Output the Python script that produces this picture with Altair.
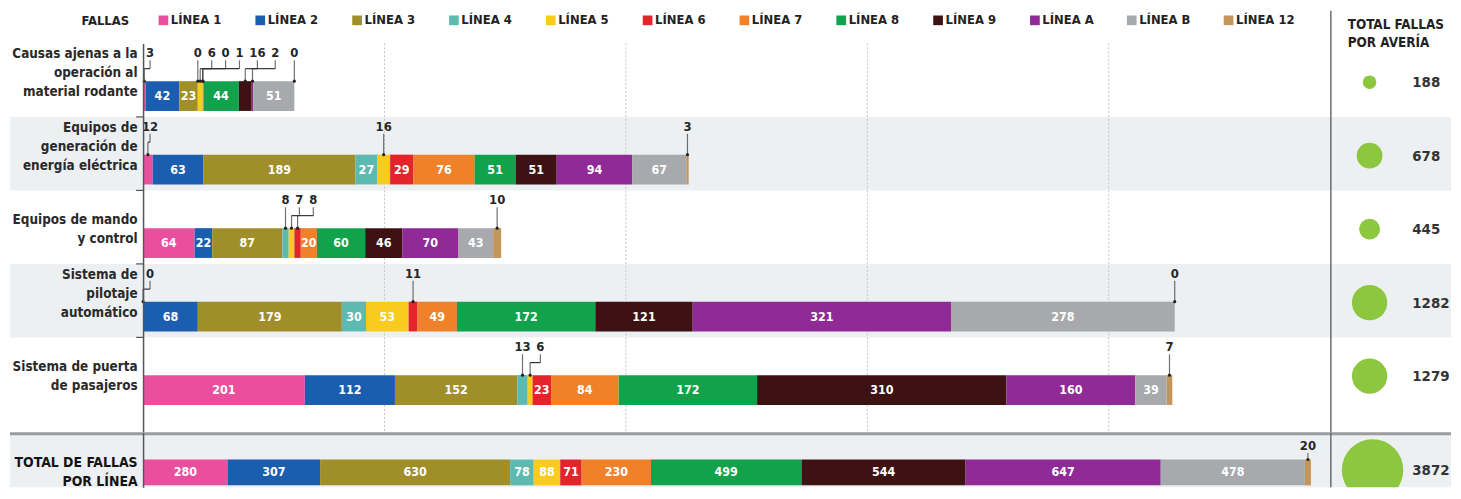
import altair as alt
import pandas as pd

# ---------------- data ----------------
lineas = ["LÍNEA 1", "LÍNEA 2", "LÍNEA 3", "LÍNEA 4", "LÍNEA 5", "LÍNEA 6",
          "LÍNEA 7", "LÍNEA 8", "LÍNEA 9", "LÍNEA A", "LÍNEA B", "LÍNEA 12"]
colores = ["#ea4f9e", "#1b5eb0", "#a08e2b", "#5dbab2", "#f8cb1d", "#e3242b",
           "#f08129", "#12a24c", "#3e1212", "#8f2a97", "#a7a9ac", "#c4965b"]
averias = ["Causas ajenas a la|operación al|material rodante",
           "Equipos de|generación de|energía eléctrica",
           "Equipos de mando|y control",
           "Sistema de|pilotaje|automático",
           "Sistema de puerta|de pasajeros"]
causas_ajenas = [3, 42, 23, 0, 6, 0, 1, 44, 16, 2, 51, 0]
generacion = [12, 63, 189, 27, 16, 29, 76, 51, 51, 94, 67, 3]
mando = [64, 22, 87, 8, 7, 8, 20, 60, 46, 70, 43, 10]
pilotaje = [0, 68, 179, 30, 53, 11, 49, 172, 121, 321, 278, 0]
puertas = [201, 112, 152, 13, 6, 23, 84, 172, 310, 160, 39, 7]
totales_linea = [280, 307, 630, 78, 88, 71, 230, 499, 544, 647, 478, 20]
totales_averia = [188, 678, 445, 1282, 1279]
total_general = 3872
total_label = "TOTAL DE FALLAS|POR LÍNEA"
header_right = "TOTAL FALLAS|POR AVERÍA"
gridlines = [300, 600, 900, 1200]

# ---------------- layout / style ----------------
FONT = "DejaVu Sans Condensed, Liberation Sans Narrow, Roboto, sans-serif"
LEFT = 134
W = 1196
H_MAIN = 392
BAND = 74
H_TOT = 55
W_R = 121
XMAX_MAIN = 1476
XMAX_TOT = 3938
BG = "#edf0f3"
INK = "#262626"
DIGIT = 8


def build(rows_vals, xmax):
    ppu = W / xmax
    segs, calls = [], []
    for row, vals in rows_vals:
        start = 0
        recs = []
        for i, (ln, v) in enumerate(zip(lineas, vals)):
            recs.append(dict(row=row, linea=ln, idx=i, value=v, start=start,
                             end=start + v, mid=start + v / 2,
                             inside=v * ppu >= 15))
            start += v
        segs.extend(recs)
        cl = [r for r in recs if not r["inside"]]
        pos = []
        for k, r in enumerate(cl):
            w = DIGIT * len(str(r["value"]))
            p = max(r["mid"] * ppu, 7)
            if pos:
                wp = DIGIT * len(str(cl[k - 1]["value"]))
                p = max(p, pos[-1] + (wp + w) / 2 + 6)
            pos.append(p)
        for r, p in zip(cl, pos):
            c = dict(r)
            c["lx"] = p / ppu
            calls.append(c)
    return pd.DataFrame(segs), pd.DataFrame(calls)


seg_main, call_main = build(list(zip(averias, [causas_ajenas, generacion, mando, pilotaje, puertas])), XMAX_MAIN)
seg_tot, call_tot = build([(total_label, totales_linea)], XMAX_TOT)

cscale = alt.Scale(domain=lineas, range=colores)
legend_def = alt.Legend(
    title="FALLAS", orient="none", legendX=-62, legendY=-30, direction="horizontal",
    columns=12, gridAlign="all", symbolType="square", symbolSize=95,
    symbolStrokeWidth=0, labelFont=FONT, labelFontSize=13, labelFontWeight="bold",
    labelColor="#222", titleFont=FONT, titleFontSize=13, titleFontWeight="bold",
    titleColor="#222", titleOrient="left", titlePadding=28, columnPadding=24.5,
    labelOffset=1, titleBaseline="middle")

pad3 = "length(split(datum.label, '|')) < 3 ? split(' |' + datum.label, '|') : split(datum.label, '|')"


def yenc(domain, height, band, label_offset, fsize, color, expr):
    n = len(domain)
    po = (height / band - n) / 2
    return alt.Y("row:N", sort=domain,
                 scale=alt.Scale(domain=domain, paddingInner=0, paddingOuter=po, align=0),
                 axis=alt.Axis(title=None, labelExpr=expr,
                               labelBaseline="middle", labelOffset=label_offset,
                               labelLineHeight=19, labelFontSize=fsize, labelFont=FONT,
                               labelFontWeight="bold", labelColor=color, labelAlign="right",
                               labelPadding=6, ticks=False, domainColor="#555",
                               domainWidth=1.5, minExtent=LEFT, maxExtent=LEFT,
                               zindex=1, labelLimit=300))


def panel(seg, call, xmax, y, height, bar_size, bar_off, lab_off, shade_rows, legend):
    xs = alt.Scale(domain=[0, xmax], nice=False, zero=True)
    bg_df = pd.DataFrame({"row": shade_rows})
    bg = alt.Chart(bg_df).mark_rect(color=BG).encode(
        y=y, x=alt.value(-LEFT), x2=alt.value(W))
    bars = alt.Chart(seg).mark_bar(size=bar_size, yOffset=bar_off).encode(
        x=alt.X("start:Q", scale=xs, axis=None), x2="end:Q", y=y,
        color=alt.Color("linea:N", scale=cscale, legend=legend),
        order=alt.Order("idx:Q"))
    inside = alt.Chart(seg[seg.inside]).mark_text(
        color="white", fontWeight="bold", fontSize=12.5, font=FONT, yOffset=bar_off).encode(
        x=alt.X("mid:Q", scale=xs, axis=None), y=y, text="value:Q")
    bar_top = bar_off - bar_size / 2
    lab_bottom = lab_off + 7
    elbow = lab_bottom + (bar_top - lab_bottom) * 0.4
    ctext = alt.Chart(call).mark_text(
        color=INK, fontWeight="bold", fontSize=13, font=FONT, yOffset=lab_off).encode(
        x=alt.X("lx:Q", scale=xs, axis=None), y=y, text="value:Q")
    t1 = alt.Chart(call).mark_tick(
        orient="vertical", size=elbow - lab_bottom, thickness=1.2, color="#333",
        yOffset=(elbow + lab_bottom) / 2).encode(x=alt.X("lx:Q", scale=xs, axis=None), y=y)
    hz = alt.Chart(call).mark_rule(color="#333", strokeWidth=1.2, yOffset=elbow).encode(
        x=alt.X("lx:Q", scale=xs, axis=None), x2="mid:Q", y=y)
    t2 = alt.Chart(call).mark_tick(
        orient="vertical", size=bar_top - elbow, thickness=1.2, color="#333",
        yOffset=(bar_top + elbow) / 2).encode(x=alt.X("mid:Q", scale=xs, axis=None), y=y)
    dots = alt.Chart(call).mark_circle(size=10, color="#222", opacity=1, yOffset=bar_top).encode(
        x=alt.X("mid:Q", scale=xs, axis=None), y=y)
    layers = [bg]
    if height == H_MAIN:
        grid = alt.Chart(pd.DataFrame({"v": gridlines})).mark_rule(
            color="#c4c4c4", strokeDash=[2, 2], strokeWidth=1).encode(
            x=alt.X("v:Q", scale=xs, axis=None), y=alt.value(0), y2=alt.value(height))
        sep = alt.Chart(pd.DataFrame({"row": averias[1:]})).mark_rule(
            color="#555", strokeWidth=1.2, yOffset=-BAND / 2).encode(
            y=y, x=alt.value(-7), x2=alt.value(0))
        layers += [grid, sep]
    layers += [bars, inside, t1, hz, t2, dots, ctext]
    return layers


y_main = yenc(averias, H_MAIN, BAND, -26, 13.5, "#2a2a2a", pad3)
main = alt.layer(*panel(seg_main, call_main, XMAX_MAIN, y_main, H_MAIN, 30, 16, -27,
                        [averias[1], averias[3]], legend_def)).properties(width=W, height=H_MAIN)

y_tot = yenc([total_label], H_TOT, H_TOT, 3, 14, "#141414", "split(datum.label, '|')")
thick = alt.Chart(pd.DataFrame({"a": [0]})).mark_rule(color="#9c9c9c", strokeWidth=3).encode(
    x=alt.value(-LEFT), x2=alt.value(W), y=alt.value(1))
tot = alt.layer(*panel(seg_tot, call_tot, XMAX_TOT, y_tot, H_TOT, 26, 12.5, -14,
                       [total_label], legend_def), thick).properties(width=W, height=H_TOT)

# ---- right panels ----
size_scale = alt.Scale(domain=[0, total_general], range=[0, total_general * 0.99])
circ_df = pd.DataFrame({"row": averias, "total": totales_averia})
y_r = alt.Y("row:N", sort=averias,
            scale=alt.Scale(domain=averias, paddingInner=0,
                            paddingOuter=(H_MAIN / BAND - 5) / 2, align=0), axis=None)
r_bg = alt.Chart(pd.DataFrame({"row": [averias[1], averias[3]]})).mark_rect(color=BG).encode(
    y=y_r, x=alt.value(0), x2=alt.value(W_R))
r_div = alt.Chart(pd.DataFrame({"a": [0]})).mark_rule(color="#6b6b6b", strokeWidth=1.5).encode(
    x=alt.value(0), y=alt.value(-33), y2=alt.value(H_MAIN))
r_circ = alt.Chart(circ_df).mark_circle(color="#8dc63f", opacity=1, yOffset=2).encode(
    x=alt.value(39), y=y_r, size=alt.Size("total:Q", scale=size_scale, legend=None))
r_txt = alt.Chart(circ_df).mark_text(
    align="left", fontWeight="bold", fontSize=15, font=FONT, color="#333", yOffset=2).encode(
    x=alt.value(82), y=y_r, text="total:Q")
r_head = alt.Chart(pd.DataFrame({"t": [header_right]})).mark_text(
    align="left", baseline="middle", fontWeight="bold", fontSize=13.5, font=FONT,
    color="#222", lineBreak="|", lineHeight=19).encode(
    x=alt.value(17), y=alt.value(-19), text="t:N")
right_main = alt.layer(r_bg, r_div, r_circ, r_txt, r_head).properties(width=W_R, height=H_MAIN)

tot_df = pd.DataFrame({"row": [total_label], "total": [total_general]})
y_rt = alt.Y("row:N", scale=alt.Scale(domain=[total_label], paddingInner=0, paddingOuter=0), axis=None)
rt_bg = alt.Chart(tot_df).mark_rect(color=BG).encode(y=y_rt, x=alt.value(0), x2=alt.value(W_R))
rt_thick = alt.Chart(tot_df).mark_rule(color="#9c9c9c", strokeWidth=3).encode(
    x=alt.value(0), x2=alt.value(W_R), y=alt.value(1))
rt_div = alt.Chart(tot_df).mark_rule(color="#6b6b6b", strokeWidth=1.5).encode(
    x=alt.value(0), y=alt.value(0), y2=alt.value(H_TOT))
rt_circ = alt.Chart(tot_df).mark_circle(color="#8dc63f", opacity=1, yOffset=10, clip=True).encode(
    x=alt.value(42), y=y_rt, size=alt.Size("total:Q", scale=size_scale, legend=None))
rt_txt = alt.Chart(tot_df).mark_text(
    align="left", fontWeight="bold", fontSize=15, font=FONT, color="#333", yOffset=10).encode(
    x=alt.value(82), y=y_rt, text="total:Q")
right_tot = alt.layer(rt_bg, rt_circ, rt_thick, rt_div, rt_txt).properties(width=W_R, height=H_TOT)

chart = alt.concat(main, right_main, tot, right_tot, columns=2, spacing=0,
                   bounds="flush", padding=0).configure_view(
    strokeWidth=0).resolve_scale(color="shared", size="shared")

chart.save("out.html", embed_options={"renderer": "svg", "actions": False})
